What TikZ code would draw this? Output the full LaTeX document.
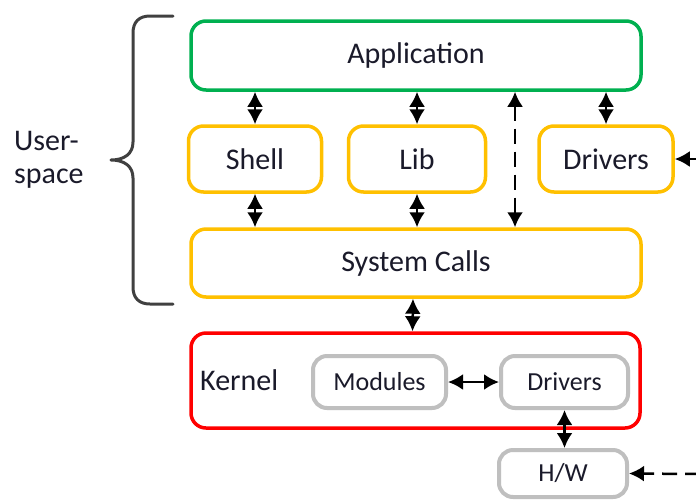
\documentclass[tikz,border=0pt]{standalone}
\usepackage{fontspec}
\setmainfont{Carlito}
\usetikzlibrary{arrows.meta}
\definecolor{cgreen}{HTML}{00B050}
\definecolor{cyellow}{HTML}{FFC000}
\definecolor{cred}{HTML}{FF0000}
\definecolor{cgray}{HTML}{BFBFBF}
\definecolor{cbrace}{HTML}{404040}
\definecolor{ctext}{HTML}{1A1A2A}
\begin{document}
\begin{tikzpicture}[x=1pt,y=-1pt,
  box/.style={draw, line width=3.5pt, rounded corners=15pt, fill=white, inner sep=0pt, text=ctext, font=\fontsize{30}{34}\selectfont},
  gbox/.style={box, draw=cgray, line width=4pt, rounded corners=14pt, font=\fontsize{26}{30}\selectfont},
  dbl/.style={line width=2.5pt, {Latex[length=15pt,width=16pt]}-{Latex[length=15pt,width=16pt]}},
  sgl/.style={line width=2.5pt, -{Latex[length=15pt,width=16pt]}},
  dsh/.style={dash pattern=on 15pt off 8pt},
  brace/.style={draw=cbrace, line width=3pt, line cap=round, line join=round}
]
\useasboundingbox (0,0) rectangle (696,499);

\node[box, draw=cgreen, minimum width=450pt, minimum height=69pt] (app) at (416,55.5) {Application};
\node[box, draw=cyellow, minimum width=133pt, minimum height=66pt] (shell) at (255,159) {Shell};
\node[box, draw=cyellow, minimum width=137pt, minimum height=66pt] (lib) at (417,159) {Lib};
\node[box, draw=cyellow, minimum width=134pt, minimum height=66pt] (drv) at (606,159) {Drivers};
\node[box, draw=cyellow, minimum width=450pt, minimum height=68pt] (sys) at (416,263) {System Calls};
\node[box, draw=cred, minimum width=449pt, minimum height=95pt] (kernel) at (415.5,380.5) {};
\node[anchor=west, text=ctext, font=\fontsize{30}{34}\selectfont, inner sep=0pt] (ktext) at (200,380) {Kernel};
\node[gbox, minimum width=133pt, minimum height=52pt] (mod) at (379.5,382) {Modules};
\node[gbox, minimum width=127pt, minimum height=52pt] (kdrv) at (564.5,382) {Drivers};
\node[gbox, minimum width=128pt, minimum height=47pt] (hw) at (563,473.5) {H/W};

\node[align=left, anchor=west, text=ctext, font=\fontsize{30}{33}\selectfont, inner sep=0pt] (us) at (14,160) {User-\\space};

\coordinate (dx) at (515,0);
\coordinate (r1) at (700,159);
\coordinate (r2) at (700,474);

\draw[dbl] (app.south -| shell) -- (shell.north);
\draw[dbl] (app.south -| lib) -- (lib.north);
\draw[dbl] (app.south -| drv) -- (drv.north);
\draw[dbl, dsh] (app.south -| dx) -- (sys.north -| dx);
\draw[dbl] (shell.south) -- (sys.north -| shell);
\draw[dbl] (lib.south) -- (sys.north -| lib);
\draw[dbl] ([xshift=-3pt]sys.south) -- ([xshift=-3pt]kernel.north);
\draw[dbl] (mod.east) -- (kdrv.west);
\draw[dbl] (kdrv.south) -- (hw.north -| kdrv);
\draw[sgl] (r1) -- (drv.east);
\draw[sgl, dsh] (r2) -- (hw.east);

\draw[brace] (173,16) -- (150,16) .. controls (139,16) and (133,22) .. (133,33) -- (133,142) .. controls (133,154) and (124,160) .. (111,160) .. controls (124,160) and (133,166) .. (133,178) -- (133,287) .. controls (133,298) and (139,304) .. (150,304) -- (173,304);
\end{tikzpicture}
\end{document}
